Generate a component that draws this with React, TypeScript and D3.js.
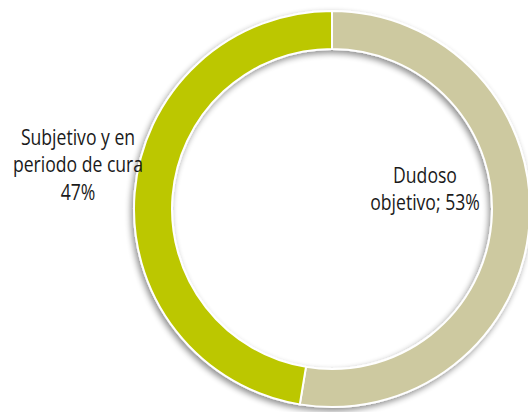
import * as d3 from "d3";

const categories = ["Dudoso objetivo", "Subjetivo y en periodo de cura"];
const values = [52.6, 47.4];
const labelLines = [["Dudoso", "objetivo; 53%"], ["Subjetivo y en", "periodo de cura", "47%"]];
const colors = ["#cdc9a0", "#bcc700"];

export default function App() {
  const width = 528;
  const height = 412;
  const cx = 332;
  const cy = 209;
  const outerR = 198;
  const innerR = 160;

  const pie = d3.pie<number>().sort(null).value((d) => d);
  const arcs = pie(values);
  const arc = d3.arc<d3.PieArcDatum<number>>().innerRadius(innerR).outerRadius(outerR);

  // first-line baseline of each label, absolute coords
  const labelPos = [
    { x: 425, y: 183 },
    { x: 78, y: 145 },
  ];

  return (
    <svg width={width} height={height} style={{ position: "absolute", left: 0, top: 0 }}>
      <defs>
        <filter id="sh" x="-20%" y="-20%" width="140%" height="140%">
          <feGaussianBlur in="SourceAlpha" stdDeviation="3" />
          <feOffset dx="-2" dy="3" result="b" />
          <feComponentTransfer>
            <feFuncA type="linear" slope="0.45" />
          </feComponentTransfer>
          <feMerge>
            <feMergeNode />
            <feMergeNode in="SourceGraphic" />
          </feMerge>
        </filter>
      </defs>
      <rect width={width} height={height} fill="#fff" />
      <g transform={`translate(${cx},${cy})`} filter="url(#sh)">
        {arcs.map((a, i) => (
          <path key={categories[i]} d={arc(a) || ""} fill={colors[i]} stroke="#fff" strokeWidth={2} />
        ))}
      </g>
      {labelLines.map((lines, i) => (
        <g key={i} transform={`translate(${labelPos[i].x},${labelPos[i].y}) scale(0.8,1)`}>
          <text
            textAnchor="middle"
            fontFamily="'Open Sans', sans-serif"
            fontSize={22}
            fill="#1a1a1a"
          >
            {lines.map((l, j) => (
              <tspan key={j} x={0} y={j * 27.5}>
                {l}
              </tspan>
            ))}
          </text>
        </g>
      ))}
    </svg>
  );
}
